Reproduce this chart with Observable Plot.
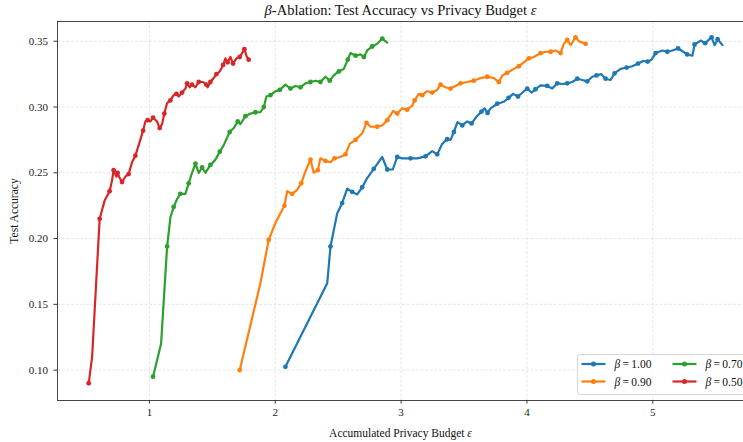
<!DOCTYPE html>
<html>
<head>
<meta charset="utf-8">
<script src="https://cdn.jsdelivr.net/npm/d3@7"></script>
<script src="https://cdn.jsdelivr.net/npm/@observablehq/plot@0.6"></script>
<style>
  html, body { margin: 0; padding: 0; background: #fff; overflow: hidden; }
  #chart { width: 743px; height: 442px; }
</style>
</head>
<body>
<div id="chart"></div>
<script>
// Series labels (β values) and tab10 colours
const betaLabels = ["1.00", "0.90", "0.70", "0.50"];
const seriesColors = ["#1f77b4", "#ff7f0e", "#2ca02c", "#d62728"];

// β = 1.00
const epsB100 = [2.081, 2.413, 2.439, 2.492, 2.532, 2.572, 2.611, 2.651, 2.691, 2.731, 2.783, 2.850, 2.890, 2.934, 2.969, 3.009, 3.075, 3.128, 3.194, 3.247, 3.287, 3.327, 3.366, 3.393, 3.419, 3.448, 3.486, 3.525, 3.560, 3.602, 3.639, 3.663, 3.687, 3.711, 3.764, 3.816, 3.854, 3.890, 3.929, 3.965, 4.002, 4.037, 4.068, 4.108, 4.161, 4.201, 4.241, 4.281, 4.320, 4.360, 4.400, 4.440, 4.479, 4.519, 4.553, 4.589, 4.625, 4.664, 4.696, 4.744, 4.792, 4.837, 4.883, 4.923, 4.959, 4.990, 5.022, 5.076, 5.115, 5.155, 5.201, 5.241, 5.273, 5.314, 5.332, 5.380, 5.416, 5.444, 5.467, 5.491, 5.515, 5.553];
const accB100 = [0.1025, 0.166, 0.194, 0.219, 0.227, 0.238, 0.2355, 0.2335, 0.239, 0.246, 0.253, 0.262, 0.2525, 0.2525, 0.262, 0.261, 0.261, 0.261, 0.2625, 0.2665, 0.264, 0.272, 0.2755, 0.275, 0.281, 0.2885, 0.286, 0.289, 0.2875, 0.293, 0.2965, 0.299, 0.2955, 0.299, 0.3025, 0.304, 0.307, 0.310, 0.308, 0.311, 0.314, 0.311, 0.3135, 0.3165, 0.316, 0.314, 0.318, 0.3175, 0.318, 0.319, 0.3215, 0.3205, 0.3195, 0.323, 0.324, 0.325, 0.3215, 0.3205, 0.3255, 0.329, 0.330, 0.331, 0.333, 0.335, 0.3345, 0.336, 0.341, 0.343, 0.342, 0.343, 0.3445, 0.342, 0.340, 0.339, 0.3475, 0.3505, 0.3485, 0.351, 0.353, 0.347, 0.3515, 0.347];

// β = 0.90
const epsB090 = [1.718, 1.882, 1.948, 2.002, 2.073, 2.095, 2.134, 2.174, 2.206, 2.240, 2.280, 2.306, 2.338, 2.359, 2.399, 2.439, 2.471, 2.518, 2.558, 2.592, 2.638, 2.691, 2.725, 2.757, 2.810, 2.850, 2.890, 2.937, 2.969, 3.009, 3.048, 3.088, 3.107, 3.141, 3.168, 3.207, 3.247, 3.287, 3.313, 3.353, 3.393, 3.432, 3.472, 3.525, 3.578, 3.631, 3.684, 3.737, 3.777, 3.804, 3.843, 3.896, 3.936, 3.975, 4.015, 4.055, 4.108, 4.148, 4.188, 4.227, 4.267, 4.293, 4.320, 4.347, 4.386, 4.413, 4.466];
const accB090 = [0.100, 0.166, 0.199, 0.212, 0.225, 0.236, 0.234, 0.237, 0.242, 0.251, 0.260, 0.250, 0.252, 0.261, 0.259, 0.258, 0.261, 0.262, 0.264, 0.272, 0.275, 0.280, 0.288, 0.285, 0.285, 0.286, 0.290, 0.297, 0.295, 0.299, 0.298, 0.301, 0.305, 0.310, 0.309, 0.312, 0.311, 0.313, 0.317, 0.315, 0.314, 0.316, 0.318, 0.319, 0.320, 0.322, 0.323, 0.322, 0.319, 0.324, 0.326, 0.329, 0.331, 0.334, 0.337, 0.338, 0.341, 0.342, 0.342, 0.343, 0.341, 0.348, 0.351, 0.347, 0.353, 0.350, 0.348];

// β = 0.70
const epsB070 = [1.029, 1.093, 1.141, 1.167, 1.193, 1.220, 1.246, 1.286, 1.312, 1.339, 1.366, 1.392, 1.419, 1.445, 1.485, 1.525, 1.559, 1.591, 1.638, 1.670, 1.702, 1.723, 1.763, 1.803, 1.843, 1.882, 1.909, 1.930, 1.962, 2.002, 2.036, 2.081, 2.121, 2.161, 2.200, 2.240, 2.280, 2.320, 2.359, 2.399, 2.433, 2.465, 2.505, 2.545, 2.576, 2.598, 2.638, 2.677, 2.704, 2.731, 2.770, 2.810, 2.850, 2.890];
const accB070 = [0.095, 0.120, 0.194, 0.216, 0.224, 0.230, 0.234, 0.234, 0.242, 0.250, 0.257, 0.250, 0.254, 0.250, 0.256, 0.260, 0.266, 0.271, 0.281, 0.284, 0.289, 0.287, 0.293, 0.295, 0.296, 0.296, 0.300, 0.308, 0.309, 0.312, 0.313, 0.317, 0.314, 0.316, 0.315, 0.318, 0.319, 0.320, 0.319, 0.323, 0.320, 0.324, 0.327, 0.329, 0.336, 0.341, 0.339, 0.340, 0.338, 0.343, 0.346, 0.348, 0.352, 0.349];

// β = 0.50
const epsB050 = [0.518, 0.545, 0.605, 0.645, 0.684, 0.703, 0.716, 0.738, 0.748, 0.764, 0.783, 0.809, 0.835, 0.862, 0.889, 0.928, 0.950, 0.968, 0.986, 1.008, 1.029, 1.061, 1.082, 1.101, 1.119, 1.141, 1.167, 1.193, 1.215, 1.233, 1.260, 1.286, 1.300, 1.320, 1.339, 1.366, 1.392, 1.427, 1.453, 1.463, 1.485, 1.511, 1.533, 1.559, 1.586, 1.604, 1.622, 1.644, 1.665, 1.692, 1.718, 1.737, 1.755, 1.771, 1.789];
const accB050 = [0.090, 0.110, 0.215, 0.229, 0.236, 0.244, 0.252, 0.247, 0.250, 0.246, 0.243, 0.247, 0.249, 0.258, 0.263, 0.275, 0.282, 0.289, 0.290, 0.289, 0.292, 0.289, 0.284, 0.287, 0.295, 0.303, 0.305, 0.309, 0.310, 0.308, 0.311, 0.314, 0.318, 0.315, 0.317, 0.315, 0.319, 0.319, 0.317, 0.315, 0.319, 0.322, 0.325, 0.327, 0.332, 0.337, 0.334, 0.338, 0.333, 0.337, 0.338, 0.341, 0.344, 0.339, 0.336];

// Axis ticks
const xTicks = [1, 2, 3, 4, 5];
const yTicks = [0.10, 0.15, 0.20, 0.25, 0.30, 0.35];

const titleText = "β-Ablation: Test Accuracy vs Privacy Budget ε";
const xLabelText = "Accumulated Privacy Budget ε";
const yLabelText = "Test Accuracy";

// Long-format rows for Plot
const seriesEps = [epsB100, epsB090, epsB070, epsB050];
const seriesAcc = [accB100, accB090, accB070, accB050];
const rows = [];
betaLabels.forEach((beta, s) => {
  seriesEps[s].forEach((e, i) => rows.push({ beta, eps: e, acc: seriesAcc[s][i], i }));
});
// markers on every other sample
const markerRows = rows.filter(d => d.i % 2 === 0);

const W = 743, H = 442;
const mLeft = 57, mTop = 21, mBottom = 42;
const xRange = [mLeft, 753];
const yRange = [H - mBottom, mTop];
const serif = "'Liberation Serif', 'Times New Roman', Times, serif";
const gridStyle = { stroke: "#b0b0b0", strokeOpacity: 0.4, strokeDasharray: "3,1.6", strokeWidth: 0.8 };

const chart = Plot.plot({
  width: W,
  height: H,
  marginTop: mTop,
  marginLeft: mLeft,
  marginBottom: mBottom,
  marginRight: 0,
  style: { fontFamily: serif, fontSize: "11px", background: "#fff", overflow: "hidden", color: "#222" },
  x: { domain: [0.27, 5.8], range: xRange },
  y: { domain: [0.0769, 0.365], range: yRange },
  color: { domain: betaLabels, range: seriesColors },
  marks: [
    Plot.gridX(xTicks, gridStyle),
    Plot.gridY(yTicks, gridStyle),
    Plot.line(rows, { x: "eps", y: "acc", z: "beta", stroke: "beta", strokeWidth: 2.2, strokeLinejoin: "round", strokeLinecap: "round" }),
    Plot.dot(markerRows, { x: "eps", y: "acc", fill: "beta", r: 2.4, stroke: null }),
    Plot.frame({ stroke: "#333", strokeWidth: 0.9 }),
    Plot.axisX(xTicks, { tickSize: 3.5, tickPadding: 4, tickFormat: d => String(d), label: null, fontSize: 11, stroke: "#333" }),
    Plot.axisY(yTicks, { tickSize: 3.5, tickPadding: 6, tickFormat: d3.format(".2f"), label: null, fontSize: 11, stroke: "#333" }),
    Plot.text([titleText], { frameAnchor: "top", dy: -11, textAnchor: "middle", lineAnchor: "middle", fontSize: 14.5, fill: "#111" }),
    Plot.text([xLabelText], { frameAnchor: "bottom", dy: 33, textAnchor: "middle", lineAnchor: "middle", fontSize: 11.5, fill: "#111" }),
    Plot.text([yLabelText], { frameAnchor: "left", dx: -43, rotate: -90, textAnchor: "middle", lineAnchor: "middle", fontSize: 11.5, fill: "#111" })
  ]
});

// Set Greek symbols in italic, as math text
function italicizeGreek(root) {
  root.querySelectorAll("text, tspan").forEach(t => {
    if (t.children.length) return;
    const s = t.textContent;
    if (!/[βε]/.test(s)) return;
    t.textContent = "";
    s.split(/([βε])/).forEach(part => {
      if (!part) return;
      const ts = document.createElementNS("http://www.w3.org/2000/svg", "tspan");
      if (/[βε]/.test(part)) ts.setAttribute("font-style", "italic");
      ts.textContent = part;
      t.appendChild(ts);
    });
  });
}
italicizeGreek(chart);

// Legend (lower right, two columns)
const svg = d3.select(chart);
const lg = svg.append("g")
  .attr("font-family", serif).attr("font-size", 11.5).attr("text-anchor", "start");
const boxRight = xRange[1] - 5.5, boxBottom = yRange[0] - 5.5;
const boxW = 170, boxH = 40;
lg.append("rect")
  .attr("x", boxRight - boxW).attr("y", boxBottom - boxH)
  .attr("width", boxW).attr("height", boxH)
  .attr("rx", 2.5).attr("fill", "#fff").attr("fill-opacity", 0.8)
  .attr("stroke", "#cccccc").attr("stroke-width", 0.8);
const colX = [boxRight - boxW + 4, boxRight - boxW + 95];
const rowY = [boxBottom - boxH + 9.5, boxBottom - boxH + 27];
betaLabels.forEach((beta, k) => {
  const col = Math.floor(k / 2), row = k % 2;
  const x0 = colX[col], y0 = rowY[row];
  const c = seriesColors[k];
  lg.append("line").attr("x1", x0).attr("x2", x0 + 24).attr("y1", y0).attr("y2", y0)
    .attr("stroke", c).attr("stroke-width", 2.2);
  lg.append("circle").attr("cx", x0 + 12).attr("cy", y0).attr("r", 2.5).attr("fill", c);
  const t = lg.append("text").attr("x", x0 + 33).attr("y", y0).attr("dy", "0.35em").attr("fill", "#111");
  t.append("tspan").attr("font-style", "italic").text("β");
  t.append("tspan").text("\u2009=\u2009" + beta);
});

document.getElementById("chart").appendChild(chart);
</script>
</body>
</html>
